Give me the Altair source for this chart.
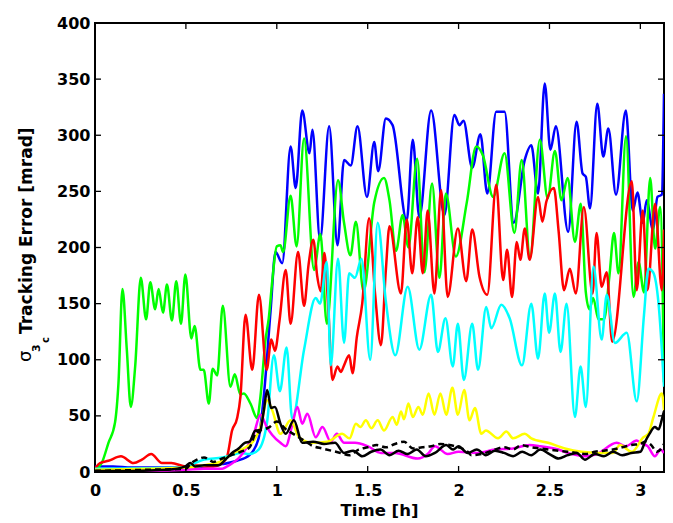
import altair as alt
import pandas as pd

# ---- data: (time [h], tracking error [mrad]) ----
BLUE = [(0,5),(0.05,5),(0.1,5),(0.2,4),(0.3,4),(0.4,4),(0.5,4),(0.6,5),(0.7,7),(0.78,10),(0.85,15),(0.9,30),
        (0.93,70),(0.966,144),(0.993,196),(1.03,186),(1.076,290),(1.104,253),(1.14,322),(1.18,284),(1.196,305),
        (1.238,207),(1.288,308),(1.334,202),(1.37,278),(1.407,273),(1.444,308),(1.496,245),(1.536,294),(1.558,268),
        (1.6,315),(1.637,309),(1.715,224),(1.748,296),(1.784,227),(1.849,322),(1.922,229),(1.977,318),(2.005,309),
        (2.027,313),(2.075,271),(2.12,301),(2.158,248),(2.207,321),(2.253,321),(2.303,222),(2.364,278),(2.40,291),
        (2.437,248),(2.474,346),(2.505,287),(2.535,308),(2.603,214),(2.649,312),(2.682,266),(2.70,263),(2.723,235),
        (2.763,328),(2.796,281),(2.824,306),(2.866,247),(2.92,322),(2.958,233),(2.984,249),(3.013,222),(3.035,242),
        (3.069,216),(3.094,245),(3.118,247),(3.13,337)]

GREEN = [(0,2),(0.037,8),(0.074,26),(0.11,44),(0.129,79),(0.151,163),(0.175,109),(0.197,58),(0.221,94),(0.252,173),
         (0.281,136),(0.304,169),(0.331,145),(0.35,163),(0.374,142),(0.396,167),(0.423,135),(0.447,170),(0.473,132),
         (0.497,176),(0.53,119),(0.548,130),(0.58,91),(0.598,91),(0.626,61),(0.647,92),(0.672,86),(0.703,148),
         (0.745,76),(0.769,87),(0.80,69),(0.819,70),(0.855,61),(0.892,48),(0.91,67),(0.938,118),(0.956,137),
         (0.975,170),(1.0,201),(1.02,202),(1.035,196),(1.076,246),(1.109,201),(1.15,297),(1.205,180),(1.24,212),
         (1.275,132),(1.337,260),(1.37,222),(1.405,193),(1.435,223),(1.477,161),(1.536,240),(1.59,262),(1.62,242),
         (1.656,197),(1.692,229),(1.724,200),(1.772,279),(1.812,178),(1.854,257),(1.895,173),(1.93,248),(1.985,192),
         (2.045,240),(2.097,290),(2.134,282),(2.19,245),(2.253,284),(2.307,213),(2.347,278),(2.393,191),(2.447,296),
         (2.49,244),(2.53,286),(2.566,242),(2.6,262),(2.64,205),(2.672,239),(2.70,160),(2.72,145),(2.74,155),
         (2.77,136),(2.80,136),(2.83,175),(2.855,213),(2.88,177),(2.921,299),(2.962,156),(2.99,187),(3.02,160),
         (3.054,262),(3.081,199),(3.109,236),(3.13,80)]

RED = [(0,3),(0.028,8),(0.074,10),(0.143,14),(0.212,8),(0.258,11),(0.309,16),(0.368,8),(0.42,8),(0.5,5),(0.55,6),
       (0.6,5),(0.65,5),(0.7,8),(0.727,14),(0.754,37),(0.782,48),(0.80,67),(0.828,140),(0.865,91),(0.902,158),
       (0.944,91),(0.97,118),(0.99,108),(1.015,135),(1.049,180),(1.076,132),(1.117,196),(1.15,148),(1.175,185),
       (1.201,207),(1.222,175),(1.242,161),(1.262,195),(1.285,140),(1.306,82),(1.334,94),(1.352,89),(1.37,95),
       (1.398,104),(1.417,88),(1.44,120),(1.47,150),(1.508,226),(1.54,160),(1.573,113),(1.60,180),(1.62,219),
       (1.683,159),(1.715,225),(1.745,177),(1.775,227),(1.803,177),(1.83,233),(1.867,159),(1.904,251),(1.94,156),
       (1.996,217),(2.042,170),(2.075,216),(2.115,174),(2.158,158),(2.207,256),(2.245,171),(2.267,198),(2.294,156),
       (2.32,205),(2.34,189),(2.364,217),(2.391,189),(2.437,245),(2.461,223),(2.483,241),(2.524,253),(2.55,215),
       (2.58,162),(2.612,181),(2.645,159),(2.689,236),(2.737,159),(2.759,213),(2.787,165),(2.815,178),(2.845,116),
       (2.953,259),(2.98,162),(3.013,233),(3.039,162),(3.081,239),(3.118,162),(3.13,216)]

CYAN = [(0,3),(0.5,4),(0.55,8),(0.6,11),(0.7,13),(0.75,15),(0.8,17),(0.85,16),(0.9,20),(0.947,45),(0.984,104),
        (1.017,72),(1.054,111),(1.085,47),(1.15,109),(1.214,155),(1.238,150),(1.275,187),(1.297,95),(1.337,190),
        (1.37,115),(1.398,177),(1.43,173),(1.466,190),(1.514,100),(1.555,222),(1.60,152),(1.652,104),(1.72,165),
        (1.784,109),(1.849,158),(1.886,107),(1.928,137),(1.968,94),(1.996,132),(2.029,82),(2.075,132),(2.107,91),
        (2.152,147),(2.18,128),(2.235,149),(2.281,137),(2.349,95),(2.40,150),(2.437,101),(2.474,159),(2.498,124),
        (2.53,159),(2.561,107),(2.594,150),(2.64,49),(2.671,94),(2.70,58),(2.742,183),(2.787,118),(2.815,158),
        (2.86,115),(2.925,124),(2.98,63),(3.02,140),(3.044,181),(3.07,178),(3.1,150),(3.13,76)]

MAGENTA = [(0,1),(0.3,1),(0.5,2),(0.6,3),(0.7,3),(0.727,5),(0.80,14),(0.874,34),(0.91,51),(0.945,40),(0.975,33),
           (1.02,26),(1.049,23),(1.085,42),(1.113,58),(1.14,43),(1.168,52),(1.214,31),(1.251,40),(1.297,27),(1.33,34),
           (1.37,26),(1.43,26),(1.5,23),(1.573,17),(1.65,17),(1.775,12),(1.83,16),(1.87,23),(1.94,16),(2.0,18),
           (2.1,17),(2.2,20),(2.3,21),(2.39,24),(2.45,23),(2.55,20),(2.6,17),(2.7,14),(2.76,16),(2.87,26),(2.92,23),
           (2.98,28),(3.0,26),(3.04,23),(3.08,14),(3.11,20),(3.13,17)]

YELLOW = [(0,2),(0.3,3),(0.5,4),(0.6,6),(0.7,10),(0.763,17),(0.83,22),(0.874,28),(0.91,40),(0.947,64),(0.975,55),
          (1.02,34),(1.076,46),(1.122,31),(1.196,26),(1.279,27),(1.36,34),(1.40,30),(1.435,43),(1.46,40),(1.49,46),
          (1.52,39),(1.555,46),(1.59,37),(1.637,49),(1.66,42),(1.683,54),(1.70,47),(1.724,61),(1.748,49),(1.779,58),
          (1.803,51),(1.835,70),(1.867,51),(1.90,70),(1.932,51),(1.966,75),(1.996,51),(2.031,73),(2.06,46),(2.09,57),
          (2.125,34),(2.15,37),(2.217,30),(2.263,36),(2.30,30),(2.364,34),(2.40,30),(2.493,26),(2.585,21),(2.677,18),
          (2.77,17),(2.85,17),(2.888,24),(2.953,18),(3.017,31),(3.044,34),(3.072,49),(3.118,70),(3.13,55)]

BLACK_DASHED = [(0,1),(0.3,2),(0.5,3),(0.53,8),(0.561,11),(0.6,13),(0.626,11),(0.65,9),(0.7,12),(0.75,15),(0.8,18),
                (0.85,22),(0.892,37),(0.93,38),(0.96,40),(1.0,45),(1.05,38),(1.1,33),(1.15,28),(1.2,23),(1.25,21),
                (1.3,19),(1.35,17),(1.4,15),(1.45,20),(1.5,22),(1.55,24),(1.6,22),(1.65,25),(1.7,27),(1.75,21),
                (1.8,22),(1.85,23),(1.9,25),(1.95,24),(2.0,22),(2.05,18),(2.07,15),(2.15,17),(2.2,20),(2.25,22),
                (2.3,20),(2.345,24),(2.4,22),(2.45,21),(2.493,20),(2.55,19),(2.6,18),(2.65,17),(2.7,16),(2.75,18),
                (2.8,19),(2.85,20),(2.9,22),(2.95,24),(3.0,25),(3.026,27),(3.06,24),(3.09,18),(3.12,22),(3.13,25)]

BLACK = [(0,1),(0.2,1),(0.4,2),(0.497,5),(0.524,8),(0.55,5),(0.6,6),(0.68,6),(0.717,11),(0.754,17),(0.79,21),
         (0.824,26),(0.85,27),(0.883,37),(0.905,35),(0.929,55),(0.947,73),(0.969,57),(0.99,58),(1.02,43),(1.049,34),
         (1.094,46),(1.14,26),(1.2,27),(1.26,25),(1.32,26),(1.37,17),(1.42,19),(1.47,14),(1.52,18),(1.57,20),
         (1.62,15),(1.67,19),(1.72,16),(1.77,20),(1.82,14),(1.87,17),(1.932,24),(1.97,20),(2.0,23),(2.05,17),
         (2.1,20),(2.15,15),(2.2,19),(2.25,17),(2.3,14),(2.35,18),(2.4,15),(2.45,20),(2.5,16),(2.55,12),(2.6,15),
         (2.65,17),(2.695,11),(2.75,16),(2.8,14),(2.85,18),(2.9,15),(2.95,17),(3.0,18),(3.026,27),(3.05,34),
         (3.08,40),(3.1,38),(3.12,48),(3.13,54)]

X_TICKS = [0, 0.5, 1, 1.5, 2, 2.5, 3]
Y_TICKS = [0, 50, 100, 150, 200, 250, 300, 350, 400]
X_MAX = 3.13

# ---- layout ----
W, H = 569, 449
FONT = "DejaVu Sans"

x_scale = alt.Scale(domain=[0, X_MAX], nice=False, zero=False)
y_scale = alt.Scale(domain=[0, 400], nice=False)

x_axis = alt.Axis(values=X_TICKS, format="~g", title=None, ticks=False, tickSize=0, domain=False, grid=False,
                  labelFont=FONT, labelFontWeight="bold", labelFontSize=16, labelColor="black",
                  labelPadding=10, labelFlush=False, labelOverlap=False, labelBound=False)
y_axis = alt.Axis(values=Y_TICKS, title=None, ticks=False, tickSize=0, domain=False, grid=False,
                  labelFont=FONT, labelFontWeight="bold", labelFontSize=16, labelColor="black",
                  labelPadding=5, labelFlush=False, labelOverlap=False, labelBound=False)

X = alt.X("t:Q", scale=x_scale, axis=x_axis)
Y = alt.Y("v:Q", scale=y_scale, axis=y_axis)


def line(pts, color, dash=None, interp="monotone", width=2.5):
    df = pd.DataFrame(pts, columns=["t", "v"])
    kw = dict(color=color, strokeWidth=width, interpolate=interp, clip=True)
    if dash:
        kw["strokeDash"] = dash
    return alt.Chart(df).mark_line(**kw).encode(x=X, y=Y)


layers = [
    line(BLUE, "#0000ff"),
    line(GREEN, "#00ff00"),
    line(RED, "#ff0000"),
    line(CYAN, "#00ffff"),
    line(MAGENTA, "#ff00ff"),
    line(YELLOW, "#ffff00"),
    line(BLACK_DASHED, "#000000", dash=[6, 4]),
    line(BLACK, "#000000"),
]

# inward ticks on all four sides
xt = pd.DataFrame({"t": X_TICKS[1:]})
yt = pd.DataFrame({"v": Y_TICKS[1:-1]})
tick_kw = dict(color="black", strokeWidth=1.3)
layers += [
    alt.Chart(xt).mark_rule(**tick_kw).encode(x=X, y=alt.value(H), y2=alt.value(H - 6)),
    alt.Chart(xt).mark_rule(**tick_kw).encode(x=X, y=alt.value(0), y2=alt.value(6)),
    alt.Chart(yt).mark_rule(**tick_kw).encode(y=Y, x=alt.value(0), x2=alt.value(6)),
    alt.Chart(yt).mark_rule(**tick_kw).encode(y=Y, x=alt.value(W), x2=alt.value(W - 6)),
]

one = pd.DataFrame({"a": [0]})


def txt(text, x, y, size, weight="bold", angle=270, align="left", font=FONT):
    return alt.Chart(one).mark_text(text=text, angle=angle, align=align, baseline="alphabetic",
                                    font=font, fontSize=size, fontWeight=weight, color="black").encode(
        x=alt.value(x), y=alt.value(y))


layers += [
    txt("σ", -64, 339, 18, weight="normal"),
    txt("3", -55, 329, 11),
    txt("c", -46, 320, 10),
    txt("Tracking Error [mrad]", -63, 311, 17),
    txt("Time [h]", W / 2, 493, 16.5, angle=0, align="center"),
]

chart = alt.layer(*layers).properties(
    width=W, height=H,
    autosize=alt.AutoSizeParams(type="none"),
    padding={"left": 95, "top": 23, "right": 9, "bottom": 51},
    background="white",
).configure_view(stroke="black", strokeWidth=2)

chart.save("out.html", embed_options={"renderer": "svg", "actions": False})
